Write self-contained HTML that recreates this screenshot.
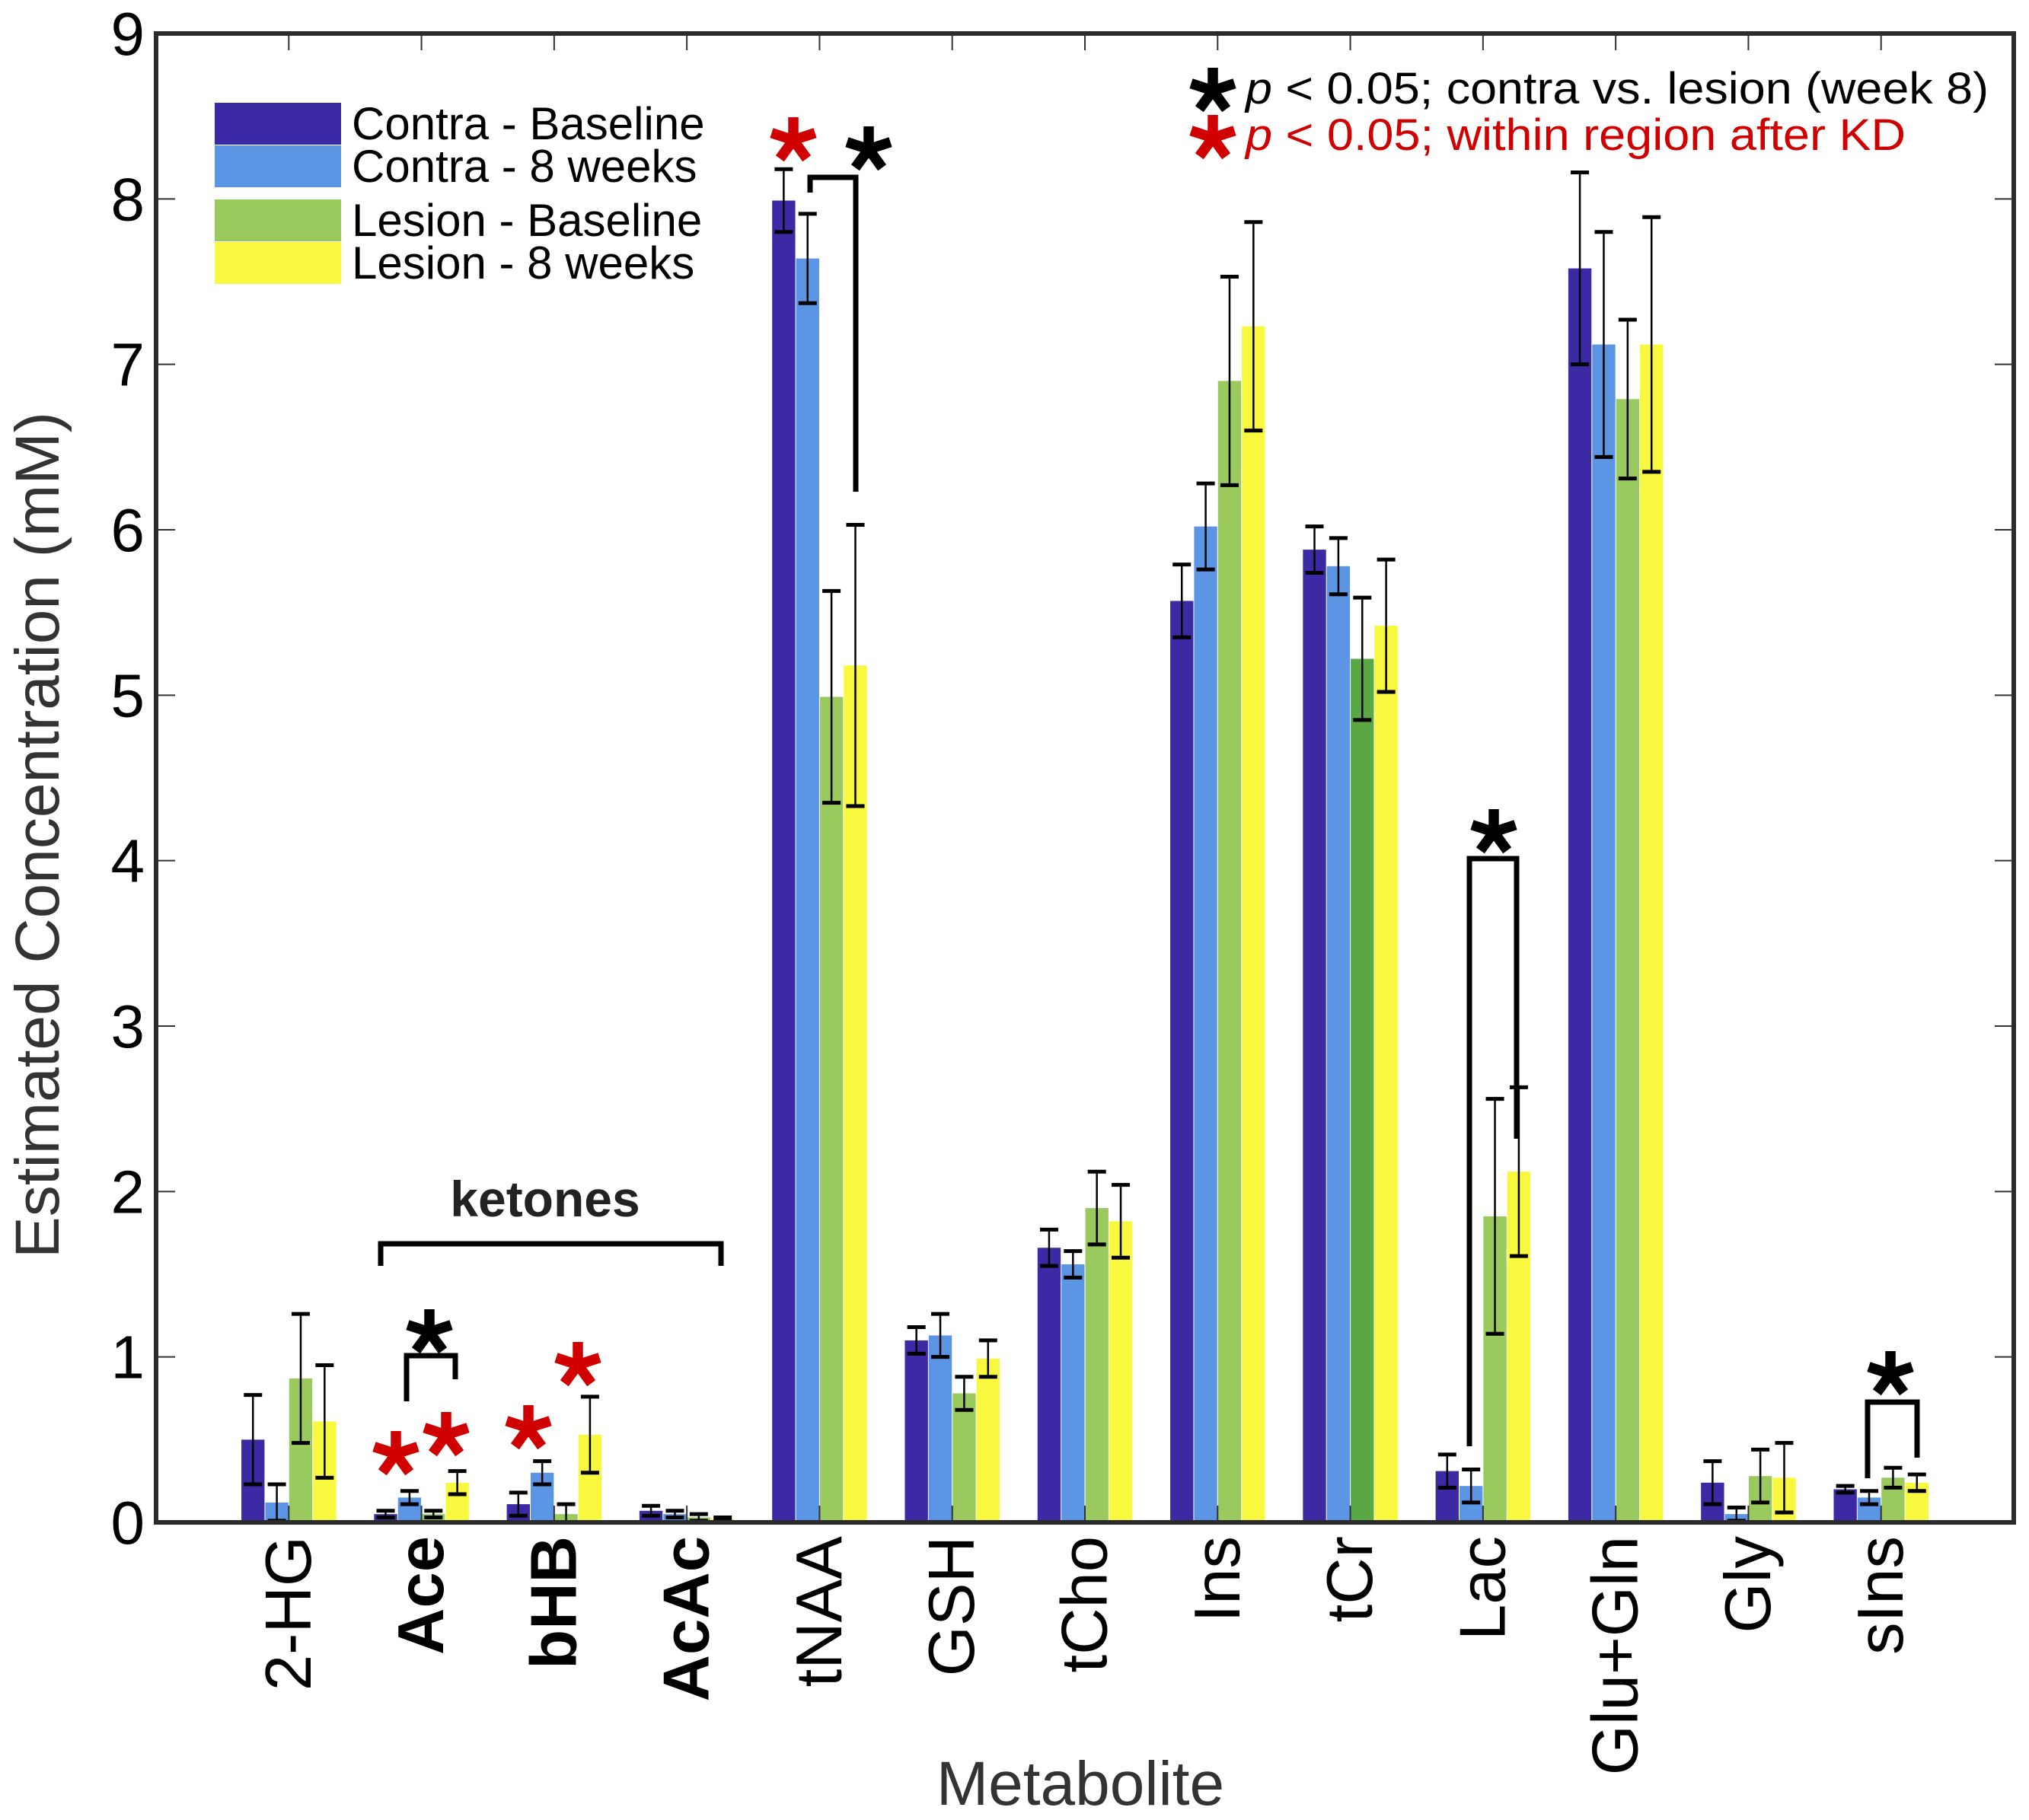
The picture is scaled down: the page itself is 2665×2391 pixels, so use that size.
<!DOCTYPE html>
<html><head><meta charset="utf-8"><style>
html,body{margin:0;padding:0;background:#fff}
svg{display:block;font-family:"Liberation Sans",Arial,sans-serif}
</style></head><body>
<svg id="chart" width="2665" height="2391" viewBox="0 0 2665 2391" xmlns="http://www.w3.org/2000/svg">
<g id="bars"></g>
<g id="errs"></g>
<g id="axes"></g>
<g id="annot"></g>
</svg>
<script>
const categories = ["2-HG","Ace","bHB","AcAc","tNAA","GSH","tCho","Ins","tCr","Lac","Glu+Gln","Gly","sIns"];
const boldCats = ["Ace","bHB","AcAc"];
const seriesNames = ["Contra - Baseline","Contra - 8 weeks","Lesion - Baseline","Lesion - 8 weeks"];
const contraBase = [0.50,0.05,0.11,0.07,7.99,1.10,1.66,5.57,5.88,0.31,7.58,0.24,0.20];
const contraBaseErr = [0.27,0.02,0.07,0.03,0.19,0.08,0.11,0.22,0.14,0.10,0.58,0.13,0.02];
const contra8 = [0.12,0.15,0.30,0.05,7.64,1.13,1.56,6.02,5.78,0.22,7.12,0.05,0.15];
const contra8Err = [0.11,0.04,0.07,0.02,0.27,0.13,0.08,0.26,0.17,0.10,0.68,0.04,0.04];
const lesionBase = [0.87,0.05,0.05,0.03,4.99,0.78,1.90,6.90,5.22,1.85,6.79,0.28,0.27];
const lesionBaseErr = [0.39,0.02,0.06,0.02,0.64,0.10,0.22,0.63,0.37,0.71,0.48,0.16,0.06];
const lesion8 = [0.61,0.24,0.53,0.02,5.18,0.99,1.82,7.23,5.42,2.12,7.12,0.27,0.24];
const lesion8Err = [0.34,0.07,0.23,0.01,0.85,0.11,0.22,0.63,0.40,0.51,0.77,0.21,0.05];
const yTicks = [0,1,2,3,4,5,6,7,8,9];

const NS="http://www.w3.org/2000/svg";
const L=205,R=2645,T=44,B=2000;
const xs=v=>L+(R-L)*v/14;
const ys=v=>B-(B-T)*v/9;
const step=(R-L)/14, bw=step*0.18;
const colors=["#3b2aa4","#5b95e3","#9aca5e","#f8f83e"];
const vals=[contraBase,contra8,lesionBase,lesion8];
const errs=[contraBaseErr,contra8Err,lesionBaseErr,lesion8Err];
function mk(tag,attrs,parent){const e=document.createElementNS(NS,tag);for(const k in attrs)e.setAttribute(k,attrs[k]);parent.appendChild(e);return e;}
const gB=document.getElementById('bars'),gE=document.getElementById('errs'),gA=document.getElementById('axes'),gN=document.getElementById('annot');
categories.forEach((c,i)=>{
  for(let s=0;s<4;s++){
    const cx=xs(i+1)+(s-1.5)*bw, v=vals[s][i], e=errs[s][i];
    let col=colors[s]; if(c==="tCr"&&s===2) col="#5aa844";
    const r=mk('rect',{x:cx-bw/2+0.5,y:ys(v),width:bw-1,height:B-ys(v),fill:col},gB);
    
    
    const eg=mk('g',{stroke:'#000',fill:'none'},gE);
    
    
    const lo=Math.max(0,v-e),hi=v+e;
    mk('line',{x1:cx,x2:cx,y1:ys(lo),y2:ys(hi),'stroke-width':2.5},eg);
    mk('line',{x1:cx-12,x2:cx+12,y1:ys(hi),y2:ys(hi),'stroke-width':5},eg);
    if(v-e>0) mk('line',{x1:cx-12,x2:cx+12,y1:ys(lo),y2:ys(lo),'stroke-width':5},eg);
  }
  const t=mk('text',{x:0,y:0,transform:`translate(${xs(i+1)},2018) rotate(-90)`,'text-anchor':'end','dominant-baseline':'central','font-size':85,'font-weight':boldCats.includes(c)?'bold':'normal',fill:'#000'},gA);
  t.textContent=c;
  
  
  mk('line',{x1:xs(i+1),x2:xs(i+1),y1:T,y2:T+22,stroke:'#333','stroke-width':2},gA);
  mk('line',{x1:xs(i+1),x2:xs(i+1),y1:B,y2:B-22,stroke:'#333','stroke-width':2},gA);
});
yTicks.forEach(v=>{
  mk('line',{x1:L,x2:L+25,y1:ys(v),y2:ys(v),stroke:'#333','stroke-width':2},gA);
  mk('line',{x1:R,x2:R-25,y1:ys(v),y2:ys(v),stroke:'#333','stroke-width':2},gA);
  const t=mk('text',{x:190,y:ys(v)+28,'text-anchor':'end','font-size':80,fill:'#000'},gA);
  t.textContent=v;
  
  
});
const frame=mk('rect',{x:L,y:T,width:R-L,height:B-T,fill:'none',stroke:'#2b2b2b','stroke-width':6},gA);


const xt=mk('text',{x:1419,y:2371,'text-anchor':'middle','font-size':82,fill:'#333'},gA);
xt.textContent='Metabolite';


const yt=mk('text',{x:0,y:0,transform:'translate(77,1097) rotate(-90)','text-anchor':'middle','font-size':82,fill:'#333'},gA);
yt.textContent='Estimated Concentration (mM)';



const lg=mk('g',{},gN);


const ly=[135,191,262,318];
seriesNames.forEach((n,s)=>{
  const e=mk('g',{},lg);
  
  
  mk('rect',{x:282,y:ly[s],width:166,height:55,fill:colors[s]},e);
  const t=mk('text',{x:462,y:ly[s]+48,'font-size':60,fill:'#000'},e);
  t.textContent=n;
});
function star(cx,cy,col,r,name){
  const g=mk('g',{stroke:col,'stroke-width':r*0.45,'stroke-linecap':'butt'},gN);
  
  
  for(let k=0;k<5;k++){const a=(-90+72*k)*Math.PI/180;mk('line',{x1:cx,y1:cy,x2:cx+r*Math.cos(a),y2:cy+r*Math.sin(a)},g);}
}
function bracket(x1,x2,y,y1,y2,name){
  const p=mk('path',{d:`M${x1},${y1} L${x1},${y} L${x2},${y} L${x2},${y2}`,fill:'none',stroke:'#000','stroke-width':7},gN);
  
  
}
star(1593,119,'#000',30,'legend-black-star');
star(1593,181,'#d00000',30,'legend-red-star');
const s1=mk('text',{x:1636,y:136,'font-size':58,fill:'#000',textLength:976,lengthAdjust:'spacingAndGlyphs'},gN);
s1.innerHTML='<tspan font-style="italic">p</tspan> &lt; 0.05; contra vs. lesion (week 8)';


const s2=mk('text',{x:1636,y:197,'font-size':58,fill:'#d00000',textLength:867,lengthAdjust:'spacingAndGlyphs'},gN);
s2.innerHTML='<tspan font-style="italic">p</tspan> &lt; 0.05; within region after KD';


const kt=mk('text',{x:716,y:1598,'text-anchor':'middle','font-size':66,'font-weight':'bold',fill:'#222'},gN);
kt.textContent='ketones';


bracket(500,947,1634,1663,1663,'ketones-bracket');
bracket(534,598,1781,1841,1812,'ace-bracket'); star(564,1750,'#000',30,'ace-black-star');
star(520,1910,'#d00000',30,'ace-red-star-1'); star(586,1885,'#d00000',30,'ace-red-star-2');
star(694,1876,'#d00000',30,'bhb-red-star-1'); star(759,1793,'#d00000',30,'bhb-red-star-2');
star(1042,184,'#d00000',30,'tnaa-red-star');
bracket(1064,1124,233,253,646,'tnaa-bracket'); star(1141,196,'#000',30,'tnaa-black-star');
bracket(1930,1992,1128,1900,1496,'lac-bracket'); star(1962,1093,'#000',30,'lac-black-star');
bracket(2453,2518,1842,1942,1915,'sins-bracket'); star(2483,1805,'#000',30,'sins-black-star');
</script>
</body></html>
